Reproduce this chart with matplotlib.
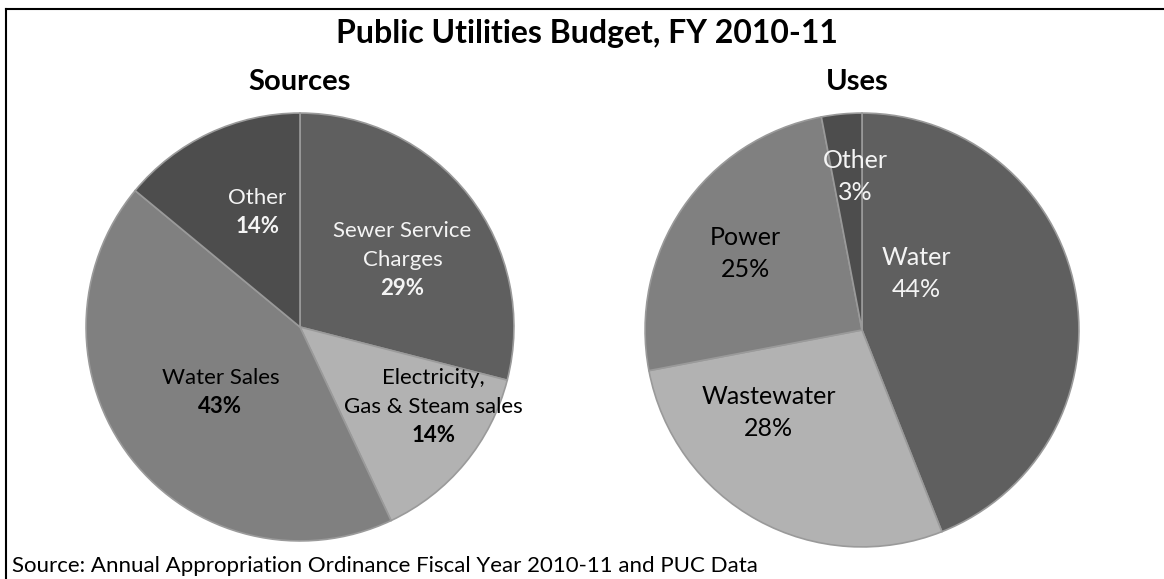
import matplotlib.pyplot as plt
from matplotlib.lines import Line2D

# Budget shares, listed clockwise from 12 o'clock
sources_names = ["Sewer Service\nCharges", "Electricity,\nGas & Steam sales", "Water Sales", "Other"]
sources_pct = [29, 14, 43, 14]
uses_names = ["Water", "Wastewater", "Power", "Other"]
uses_pct = [44, 28, 25, 3]

slice_colors = ["#5f5f5f", "#b2b2b2", "#808080", "#4d4d4d"]
sources_text = ["#f4f4f4", "black", "black", "#f4f4f4"]
uses_text = ["#f4f4f4", "black", "black", "#f4f4f4"]

# label anchor (first line centre) in pie-radius units
sources_pos = [(0.479, 0.451), (0.623, -0.237), (-0.372, -0.237), (-0.20, 0.605)]
uses_pos = [(0.252, 0.335), (-0.431, -0.307), (-0.537, 0.427), (-0.032, 0.780)]

plt.rcParams["font.family"] = ["Lato", "DejaVu Sans"]

W, H = 1164, 579
fig = plt.figure(figsize=(W / 100, H / 100), dpi=100)


def px_axes(left, top, right, bottom):
    return fig.add_axes([left / W, 1 - bottom / H, (right - left) / W, (bottom - top) / H])


def draw_pie(ax, values, names, pos, text_colors, size, step_px, bold_pct):
    ax.pie(values, colors=slice_colors, startangle=90, counterclock=False,
           wedgeprops=dict(edgecolor="#9a9a9a", linewidth=1.2))
    ax.set_xlim(-1.005, 1.005)
    ax.set_ylim(-1.005, 1.005)
    ax.axis("off")
    for name, v, (x, y), c in zip(names, values, pos, text_colors):
        lines = name.split("\n") + [f"{v}%"]
        for i, line in enumerate(lines):
            is_pct = i == len(lines) - 1
            ax.annotate(line, xy=(x, y), xytext=(0, -i * step_px * 0.72),
                        textcoords="offset points", ha="center", va="center",
                        fontsize=size, color=c,
                        fontweight="bold" if (is_pct and bold_pct) else "normal")


ax_src = px_axes(85, 112, 515, 542)
draw_pie(ax_src, sources_pct, sources_names, sources_pos, sources_text, 16, 29, True)

ax_use = px_axes(644, 112, 1080, 548)
draw_pie(ax_use, uses_pct, uses_names, uses_pos, uses_text, 18, 32, False)

fig.text(587 / W, 1 - 34 / H, "Public Utilities Budget, FY 2010-11", ha="center", va="center",
         fontsize=23, fontweight="bold")
fig.text(300 / W, 1 - 82 / H, "Sources", ha="center", va="center", fontsize=21, fontweight="bold")
fig.text(857 / W, 1 - 82 / H, "Uses", ha="center", va="center", fontsize=21, fontweight="bold")
fig.text(12 / W, 1 - 566 / H, "Source: Annual Appropriation Ordinance Fiscal Year 2010-11 and PUC Data",
         ha="left", va="center", fontsize=16)

# outer frame (top and left edges)
fig.add_artist(Line2D([5.5 / W, 5.5 / W], [0, 1 - 9 / H], color="black", lw=1.5))
fig.add_artist(Line2D([5.5 / W, 1], [1 - 9 / H, 1 - 9 / H], color="black", lw=1.5))

fig.savefig("out.png", dpi=100)
